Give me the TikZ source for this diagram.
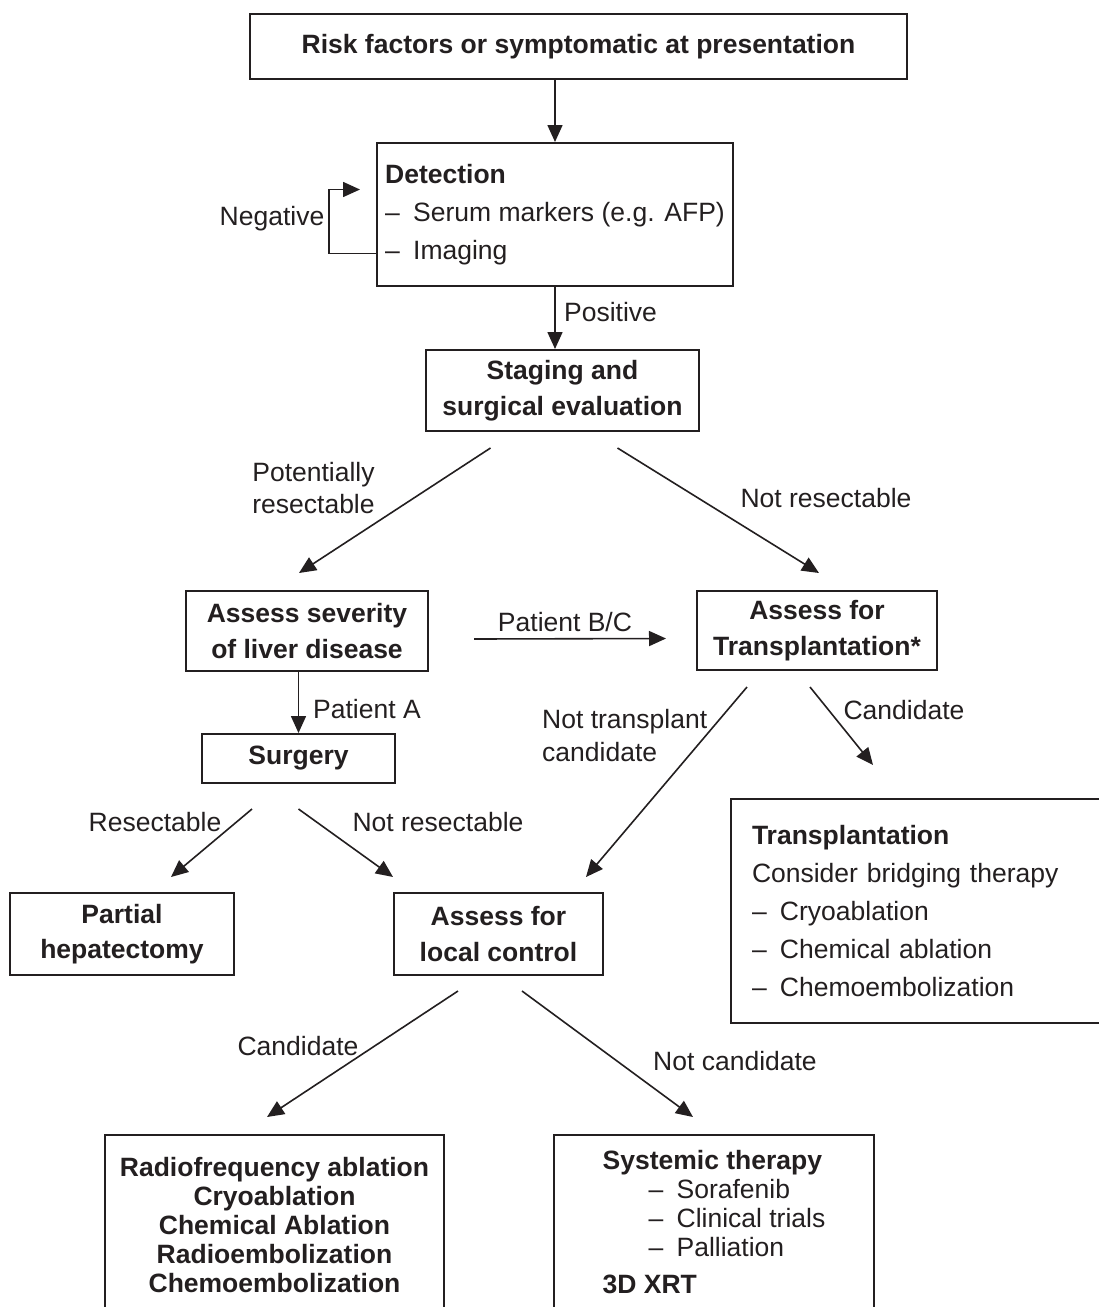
\documentclass[tikz,border=0pt]{standalone}
\usepackage{fontspec}
\setmainfont{Liberation Sans}
\usetikzlibrary{arrows.meta}
\definecolor{ink}{HTML}{231F20}
\def\txt{\fontsize{26.5}{35.5}\selectfont}
\tikzset{
	box/.style={draw=ink, line width=2pt, inner sep=0pt, align=center, text=ink, font=\txt\bfseries},
	lbl/.style={inner sep=0pt, text=ink, font=\txt},
	arr/.style={draw=ink, line width=1.6pt, -{Triangle[length=17pt,width=15pt]}},
}

\begin{document}
\begin{tikzpicture}[x=1pt, y=-1pt]
			%%%%% START %%%%%
			\useasboundingbox (0,0) rectangle (1099,1307);
			\fill[white] (0,0) rectangle (1099,1307);
			
			\node[box, minimum width=657pt, minimum height=65pt] (risk) at (578.5, 46.5) {Risk factors or symptomatic at presentation};
			\node[box, align=left, font=\fontsize{26.5}{38}\selectfont, minimum width=356pt, minimum height=143pt] (detect) at (555, 214.5) {\textbf{Detection}\\\textendash\enspace Serum markers (e.g. AFP)\\\textendash\enspace Imaging};
			\node[box, minimum width=273pt, minimum height=81pt] (staging) at (562.5, 390.5) {Staging and\\surgical evaluation};
			
			\node[box, minimum width=242pt, minimum height=80pt] (severity) at (307, 631) {Assess severity\\of liver disease};
			\node[box, minimum width=240pt, minimum height=79pt] (assesstx) at (817, 630.5) {Assess for\\Transplantation*};
			\node[box, minimum width=193pt, minimum height=49pt] (surgery) at (298.5, 758.5) {Surgery};
			
			\node[box, minimum width=224pt, minimum height=82pt] (hepat) at (122, 934) {Partial\\hepatectomy};
			\node[box, minimum width=209pt, minimum height=82pt] (localctl) at (498.5, 934) {Assess for\\local control};
			\node[box, anchor=north west, align=left, font=\fontsize{26.5}{38}\selectfont, text width=340pt, inner xsep=21pt, minimum height=224pt] (transpl) at (730, 798) {\textbf{Transplantation}\\Consider bridging therapy\\\textendash\enspace Cryoablation\\\textendash\enspace Chemical ablation\\\textendash\enspace Chemoembolization};
			
			\node[box, anchor=north, font=\fontsize{26.5}{29}\selectfont\bfseries, minimum width=339pt, minimum height=199pt] (ablate) at (274.5, 1134) {Radiofrequency ablation\\Cryoablation\\Chemical Ablation\\Radioembolization\\Chemoembolization\rule[-20pt]{0pt}{20pt}};
			\node[box, anchor=north, align=left, font=\fontsize{26.5}{29}\selectfont, minimum width=320pt, minimum height=193pt] (systemic) at (714, 1134) {\textbf{Systemic therapy}\\\hspace*{46pt}\textendash\enspace Sorafenib\\\hspace*{46pt}\textendash\enspace Clinical trials\\\hspace*{46pt}\textendash\enspace Palliation\\[8pt]\textbf{3D XRT}\rule[-20pt]{0pt}{20pt}};
			
			\node[lbl] (neg) at (272, 219) {Negative};
			\node[lbl, anchor=west] (pos) at (564, 312) {Positive};
			\node[lbl, align=left, font=\fontsize{26.5}{32}\selectfont] (potres) at (313.5, 488) {Potentially\\resectable};
			\node[lbl] (notres) at (826, 498) {Not resectable};
			\node[lbl] (patbc) at (565, 622) {Patient B/C};
			\node[lbl, anchor=west] (pata) at (313, 709) {Patient A};
			\node[lbl, anchor=west, align=left, font=\fontsize{26.5}{33}\selectfont] (nottx) at (542, 735.5) {Not transplant\\candidate};
			\node[lbl] (candtx) at (904, 710) {Candidate};
			\node[lbl] (resec) at (155, 822) {Resectable};
			\node[lbl] (notresec) at (438, 822) {Not resectable};
			\node[lbl] (candlc) at (298, 1046) {Candidate};
			\node[lbl] (notcand) at (735, 1061) {Not candidate};
			
			\draw[arr] (risk.south -| detect.north) -- (detect.north);
			\draw[arr] ([yshift=-39pt]detect.west) -- ++(-47pt,0) |- ([xshift=-16pt,yshift=25pt]detect.west);
			\draw[arr] (detect.south) -- (detect.south |- staging.north);
			
			\draw[arr] ([xshift=-72pt,yshift=-16pt]staging.south) -- ([xshift=-8pt,yshift=17pt]severity.north);
			\draw[arr] ([xshift=55pt,yshift=-16pt]staging.south) -- ([xshift=2pt,yshift=17pt]assesstx.north);
			\draw[arr] ([xshift=45pt,yshift=-8pt]severity.east) -- ([xshift=-30pt,yshift=-8pt]assesstx.west);
			\draw[arr] (severity.south -| surgery.north) -- (surgery.north);
			
			\draw[arr] ([xshift=-46.5pt,yshift=-25pt]surgery.south) -- ([xshift=49pt,yshift=15pt]hepat.north);
			\draw[arr] ([yshift=-25pt]surgery.south) -- ([xshift=-105.5pt,yshift=15pt]localctl.north);
			\draw[arr] ([xshift=-70pt,yshift=-16pt]assesstx.south) -- ([xshift=87.5pt,yshift=15pt]localctl.north);
			\draw[arr] ([xshift=-7pt,yshift=-16pt]assesstx.south) -- ([xshift=143pt,yshift=33pt]transpl.north west);
			
			\draw[arr] ([xshift=-40.5pt,yshift=-15pt]localctl.south) -- ([xshift=-7.5pt,yshift=17pt]ablate.north);
			\draw[arr] ([xshift=23.5pt,yshift=-15pt]localctl.south) -- ([xshift=-21pt,yshift=17pt]systemic.north);
			%%%%% END %%%%%
\end{tikzpicture}
\end{document}
